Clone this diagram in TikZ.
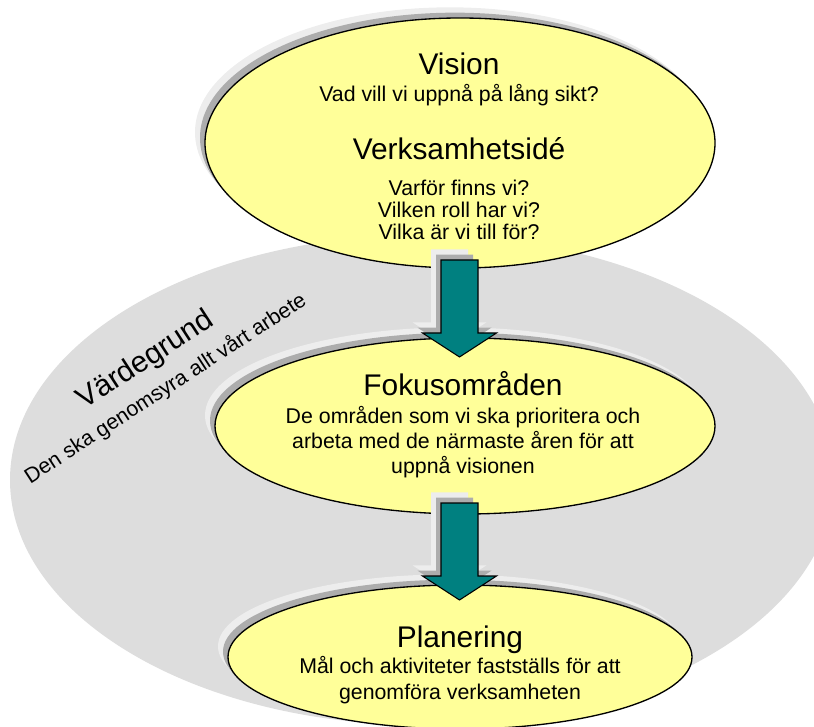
\documentclass[tikz,border=0pt]{standalone}
\usepackage{fontspec}
\setmainfont{Liberation Sans}
\usetikzlibrary{shapes.geometric,shadows,calc}

\definecolor{bubblefill}{HTML}{FFFF99}
\definecolor{groundgray}{HTML}{DDDDDD}
\definecolor{arrowteal}{HTML}{008080}

\tikzset{
  boxshadow/.style={
    drop shadow={shadow xshift=-7.5pt, shadow yshift=8pt, fill=black!7, opacity=1},
    drop shadow={shadow xshift=-3.75pt, shadow yshift=4pt, fill=black!32, opacity=1}},
  bubble/.style={ellipse, draw=black, line width=1pt, fill=bubblefill, inner sep=0pt, boxshadow},
  ground/.style={ellipse, fill=groundgray, inner sep=0pt},
  bigtitle/.style={anchor=base, inner sep=0pt, font=\fontsize{22.4}{26}\selectfont},
  subline/.style={anchor=base, inner sep=0pt, font=\fontsize{16}{19}\selectfont},
  arrowbody/.style={fill=arrowteal, draw=black, line width=0.8pt, line join=miter, boxshadow}
}

\newcommand{\tealarrow}[2]{%
  \draw[arrowbody] ($(#1)+(-18.5,0)$) -- ($(#1)+(18.5,0)$) -- ($(#2)+(18.5,-24)$)
    -- ($(#2)+(37,-24)$) -- (#2) -- ($(#2)+(-37,-24)$) -- ($(#2)+(-18.5,-24)$) -- cycle;}

\begin{document}
\begin{tikzpicture}[x=0.75pt,y=-0.75pt]
\useasboundingbox (0,0) rectangle (814,727);
\clip (0,0) rectangle (814,727);
% Grey ground behind everything
\node[ground, minimum width=618pt, minimum height=367.5pt] (ground) at (422,480) {};
\node[bigtitle, rotate=33] (groundtitle) at (150,367) {Värdegrund};
\node[subline, rotate=33] (groundtext) at (169,394) {Den ska genomsyra allt vårt arbete};
% The three ellipses
\node[bubble, minimum width=382.5pt, minimum height=187.5pt] (vision) at (460,143) {};
\node[bubble, minimum width=375pt, minimum height=132pt] (fokus) at (465,426) {};
\node[bubble, minimum width=348pt, minimum height=108pt] (planering) at (460,657) {};
% Texts in the top ellipse
\node[bigtitle] (visiontitle) at (459,75) {Vision};
\node[subline] (visionq) at (459,102) {Vad vill vi uppnå på lång sikt?};
\node[bigtitle] (ideatitle) at (459,160) {Verksamhetsidé};
\node[subline] (idea1) at (459,196) {Varför finns vi?};
\node[subline] (idea2) at (459,218) {Vilken roll har vi?};
\node[subline] (idea3) at (459,240) {Vilka är vi till för?};
% Texts in the middle ellipse
\node[bigtitle] (fokustitle) at (463,395) {Fokusområden};
\node[subline] (fokus1) at (463,423) {De områden som vi ska prioritera och};
\node[subline] (fokus2) at (463,448) {arbeta med de närmaste åren för att};
\node[subline] (fokus3) at (463,473) {uppnå visionen};
% Texts in the bottom ellipse
\node[bigtitle] (plantitle) at (460,647) {Planering};
\node[subline] (plan1) at (460,673) {Mål och aktiviteter fastställs för att};
\node[subline] (plan2) at (460,699) {genomföra verksamheten};
% Block arrows between the ellipses
\coordinate (arrowAtop) at (459.5,260);
\coordinate (arrowAtip) at (459.5,357);
\coordinate (arrowBtop) at (459.5,503);
\coordinate (arrowBtip) at (459.5,600);
\tealarrow{arrowAtop}{arrowAtip}
\tealarrow{arrowBtop}{arrowBtip}
\end{tikzpicture}
\end{document}
